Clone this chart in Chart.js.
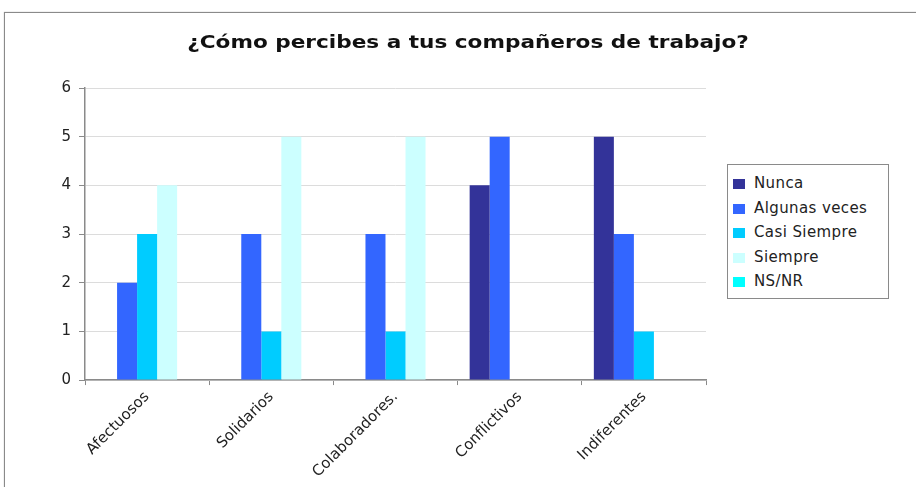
<!DOCTYPE html>
<html lang="es">
<head>
<meta charset="UTF-8">
<title>¿Cómo percibes a tus compañeros de trabajo?</title>
<script src="https://cdn.jsdelivr.net/npm/chart.js@4/dist/chart.umd.min.js"></script>
<style>
  html, body { margin: 0; padding: 0; background: #fff; overflow: hidden; }
  #wrap { position: relative; width: 916px; height: 487px; }
  #frame {
    position: absolute; left: 4px; top: 12px; width: 960px; height: 520px;
    border: 1px solid #8a8a8a; box-shadow: 0 0 1px #aaa;
  }
  #chart { position: absolute; left: 0; top: 0; }
  #title {
    position: absolute; left: 168px; top: 32px; width: 600px; text-align: center;
    font-family: "DejaVu Sans", Verdana, sans-serif; font-size: 17px; font-weight: bold; color: #111;
    transform: scaleX(1.27); transform-origin: center;
  }
  #legend {
    position: absolute; left: 727px; top: 164px; width: 160px;
    border: 1px solid #8a8a8a; background: #fff; padding: 6px 0 4px 0;
    font-family: "DejaVu Sans", Verdana, sans-serif; font-size: 15px; letter-spacing: 0.4px; color: #222;
  }
  #legend div { height: 24.5px; line-height: 24.5px; white-space: nowrap; }
  #legend span.sw { display: inline-block; width: 12px; height: 10px; margin: 0 9px 0 5px; vertical-align: -1px; }
</style>
</head>
<body>
<div id="wrap">
  <div id="frame"></div>
  <canvas id="chart" width="916" height="487"></canvas>
  <div id="title">¿Cómo percibes a tus compañeros de trabajo?</div>
  <div id="legend"></div>
</div>
<script>
const categories = ['Afectuosos', 'Solidarios', 'Colaboradores.', 'Conflictivos', 'Indiferentes'];
const seriesNames = ['Nunca', 'Algunas veces', 'Casi Siempre', 'Siempre', 'NS/NR'];
const nunca = [0, 0, 0, 4, 5];
const algunasVeces = [2, 3, 3, 5, 3];
const casiSiempre = [3, 1, 1, 0, 1];
const siempre = [4, 5, 5, 0, 0];
const nsnr = [0, 0, 0, 0, 0];
const colors = ['#333399', '#3366ff', '#00ccff', '#ccffff', '#00ffff'];
const yTicks = [0, 1, 2, 3, 4, 5, 6];

const values = [nunca, algunasVeces, casiSiempre, siempre, nsnr];
const datasets = seriesNames.map((name, i) => ({
  label: name,
  data: values[i],
  backgroundColor: colors[i],
  borderWidth: 0,
  categoryPercentage: 0.806,
  barPercentage: 1.0
}));

const ctx = document.getElementById('chart').getContext('2d');
const chart = new Chart(ctx, {
  type: 'bar',
  data: { labels: categories, datasets: datasets },
  options: {
    responsive: false,
    animation: false,
    layout: { padding: { left: 10, right: 210, top: 88, bottom: 3 } },
    plugins: {
      legend: { display: false },
      tooltip: { enabled: false },
      title: { display: false }
    },
    scales: {
      x: {
        grid: {
          offset: true,
          drawOnChartArea: false,
          drawTicks: true,
          tickLength: 5,
          color: '#8a8a8a'
        },
        border: { color: '#8a8a8a', width: 1.5 },
        ticks: {
          color: '#222',
          minRotation: 45,
          maxRotation: 45,
          font: { family: '"DejaVu Sans", Verdana, sans-serif', size: 15 }
        }
      },
      y: {
        min: 0,
        max: 6,
        afterBuildTicks: (scale) => { scale.ticks = yTicks.map(v => ({ value: v })); },
        afterFit: (scale) => { scale.width = 75; },
        grid: { color: '#dcdcdc', tickLength: 6, tickColor: '#8a8a8a' },
        border: { color: '#8a8a8a', width: 1.5 },
        ticks: {
          color: '#222',
          padding: 8,
          font: { family: '"DejaVu Sans", Verdana, sans-serif', size: 15 }
        }
      }
    }
  }
});

const legendEl = document.getElementById('legend');
chart.data.datasets.forEach(ds => {
  const row = document.createElement('div');
  row.innerHTML = '<span class="sw" style="background:' + ds.backgroundColor + '"></span>' + ds.label;
  legendEl.appendChild(row);
});
</script>
</body>
</html>
